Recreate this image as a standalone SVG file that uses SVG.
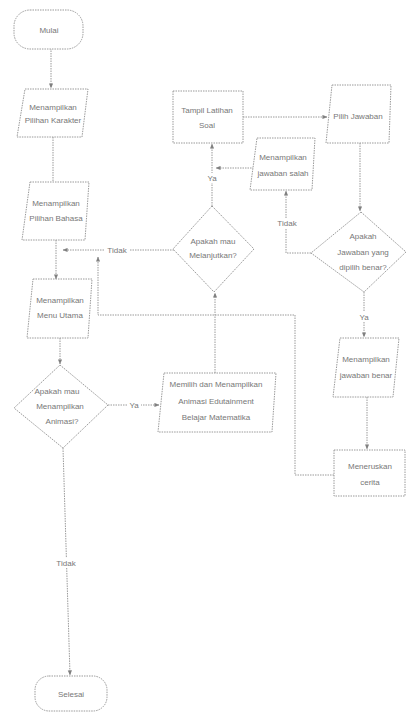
<svg xmlns="http://www.w3.org/2000/svg" width="406" height="713" viewBox="0 0 406 713">
<defs>
<style>
.s{fill:#ffffff;stroke:#9a9a9a;stroke-width:1;stroke-dasharray:1.5 1}
.c{fill:none;stroke:#9a9a9a;stroke-width:1;stroke-dasharray:1.5 1}
text{font-family:"Liberation Sans",Arial,sans-serif;font-size:8px;fill:#777777;text-anchor:middle}
.l{fill:#ffffff}
</style>
<marker id="a" viewBox="0 0 6 6" refX="5.5" refY="3" markerWidth="5" markerHeight="5" orient="auto">
<path d="M0,0.5 L6,3 L0,5.5 z" fill="#808080"/>
</marker>
</defs>
<rect width="406" height="713" fill="#ffffff"/>
<g id="connectors">
<path class="c" d="M51,48 V88" marker-end="url(#a)"/>
<path class="c" d="M53,137 V182"/>
<path class="c" d="M56,240 V279" marker-end="url(#a)"/>
<path class="c" d="M174,250 H63" marker-end="url(#a)"/>
<path class="c" d="M334,475 H295 V315 H98 V257" marker-end="url(#a)"/>
<path class="c" d="M215,373 V293" marker-end="url(#a)"/>
<path class="c" d="M212,206 V144" marker-end="url(#a)"/>
<path class="c" d="M254,168 H216" marker-end="url(#a)"/>
<path class="c" d="M243,117 H327" marker-end="url(#a)"/>
<path class="c" d="M360,143 V211" marker-end="url(#a)"/>
<path class="c" d="M311,253 H286 V191" marker-end="url(#a)"/>
<path class="c" d="M364,292 V337" marker-end="url(#a)"/>
<path class="c" d="M367,397 V449" marker-end="url(#a)"/>
<path class="c" d="M60,338 V364" marker-end="url(#a)"/>
<path class="c" d="M108,405 H159" marker-end="url(#a)"/>
<path class="c" d="M63,448 L70,675" marker-end="url(#a)"/>
<rect class="l" x="105" y="245" width="24" height="10"/>
<text x="117" y="253">Tidak</text>
<rect class="l" x="205" y="173" width="14" height="10"/>
<text x="212" y="181">Ya</text>
<rect class="l" x="275" y="218" width="24" height="10"/>
<text x="287" y="226">Tidak</text>
<rect class="l" x="357" y="312" width="14" height="10"/>
<text x="364" y="320">Ya</text>
<rect class="l" x="127" y="400" width="14" height="10"/>
<text x="134" y="408">Ya</text>
<rect class="l" x="54" y="558" width="24" height="10"/>
<text x="66" y="566">Tidak</text>
</g>
<g id="mulai">
<rect class="s" x="14" y="10" width="69" height="39" rx="16"/>
<text x="49" y="33">Mulai</text>
</g>
<g id="pilihan-karakter">
<path class="s" d="M25,89 H88 L82,137 H17 Z"/>
<text x="53" y="110">Menampilkan</text>
<text x="53" y="123">Pilihan Karakter</text>
</g>
<g id="pilihan-bahasa">
<path class="s" d="M30,182 H89 L85,240 H22 Z"/>
<text x="56" y="206">Menampilkan</text>
<text x="56" y="221">Pilihan Bahasa</text>
</g>
<g id="menu-utama">
<path class="s" d="M33,279 H92 L88,338 H27 Z"/>
<text x="60" y="303">Menampilkan</text>
<text x="60" y="318">Menu Utama</text>
</g>
<g id="apakah-melanjutkan">
<path class="s" d="M212,206 L254,249 L214,292 L173,249 Z"/>
<text x="213" y="244">Apakah mau</text>
<text x="213" y="258">Melanjutkan?</text>
</g>
<g id="tampil-latihan">
<rect class="s" x="173" y="91" width="70" height="52"/>
<text x="207" y="113">Tampil Latihan</text>
<text x="207" y="128">Soal</text>
</g>
<g id="pilih-jawaban">
<path class="s" d="M332,85 H391 L389,143 H326 Z"/>
<text x="358" y="119">Pilih Jawaban</text>
</g>
<g id="jawaban-salah">
<path class="s" d="M257,138 H315 L312,190 H250 Z"/>
<text x="283" y="160">Menampilkan</text>
<text x="283" y="176">jawaban salah</text>
</g>
<g id="apakah-benar">
<path class="s" d="M361,212 L406,252 L364,292 L311,253 Z"/>
<text x="363" y="239">Apakah</text>
<text x="363" y="255">Jawaban yang</text>
<text x="363" y="270">dipilih benar?</text>
</g>
<g id="jawaban-benar">
<path class="s" d="M340,338 H399 L393,397 H333 Z"/>
<text x="366" y="362">Menampilkan</text>
<text x="366" y="378">jawaban benar</text>
</g>
<g id="meneruskan-cerita">
<rect class="s" x="334" y="450" width="71" height="46"/>
<text x="370" y="469">Meneruskan</text>
<text x="370" y="485">cerita</text>
</g>
<g id="apakah-animasi">
<path class="s" d="M60,365 L108,405 L63,448 L14,408 Z"/>
<text x="57" y="394">Apakah mau</text>
<text x="60" y="409">Menampilkan</text>
<text x="62" y="424">Animasi?</text>
</g>
<g id="memilih-animasi">
<path class="s" d="M164,373 H276 L272,432 H158 Z"/>
<text x="216" y="387">Memilih dan Menampilkan</text>
<text x="216" y="404">Animasi Edutainment</text>
<text x="216" y="420">Belajar Matematika</text>
</g>
<g id="selesai">
<rect class="s" x="35" y="676" width="72" height="35" rx="14"/>
<text x="71" y="697">Selesai</text>
</g>
</svg>
